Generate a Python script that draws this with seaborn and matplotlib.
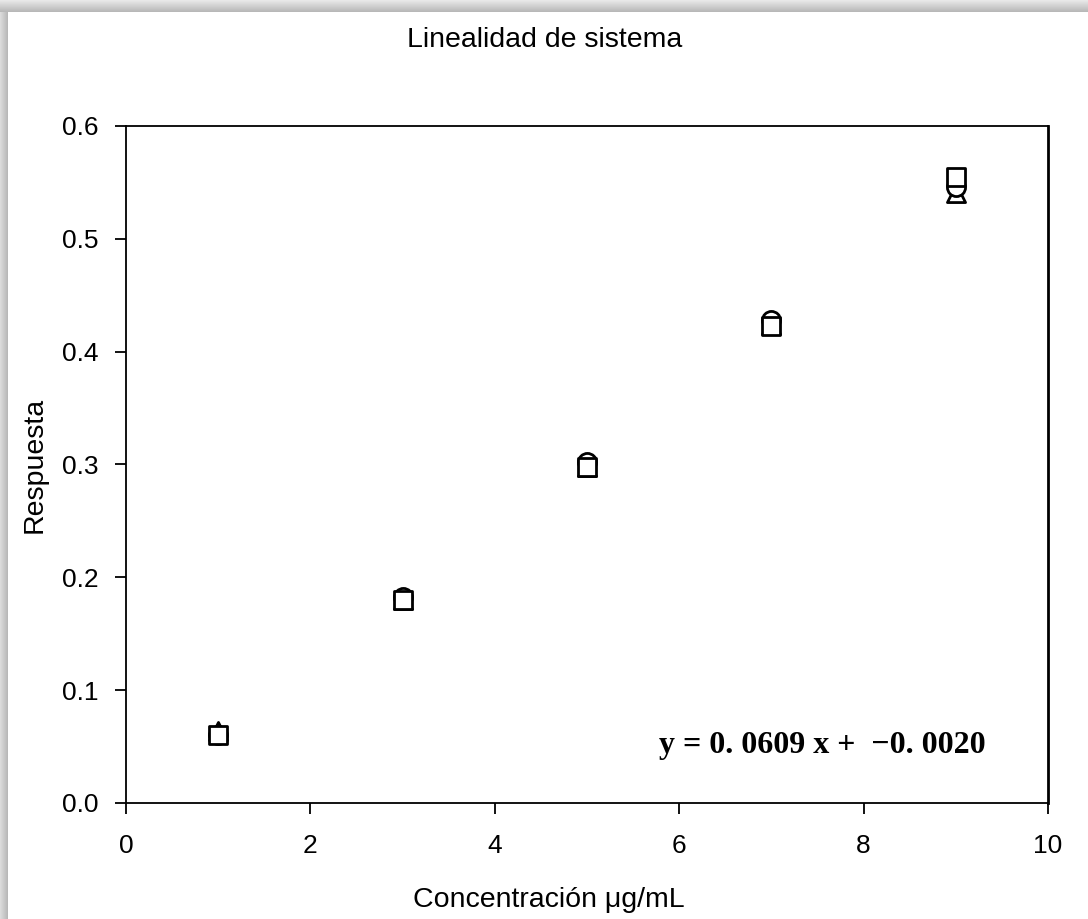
import numpy as np
import pandas as pd
import matplotlib
matplotlib.use("Agg")
import matplotlib.pyplot as plt
from matplotlib.patches import Rectangle
import seaborn as sns

# Concentrations (µg/mL) and the three replicate responses
concentracion = [1, 3, 5, 7, 9]
resp_triangulo = [0.064, 0.180, 0.298, 0.424, 0.541]
resp_circulo = [0.060, 0.183, 0.302, 0.428, 0.546]
resp_cuadrado = [0.060, 0.180, 0.298, 0.423, 0.555]

x_ticks = [0, 2, 4, 6, 8, 10]
y_ticks = [0.0, 0.1, 0.2, 0.3, 0.4, 0.5, 0.6]
ecuacion = "y = 0. 0609 x +  \u22120. 0020"

sns.set_theme(style="white")
plt.rcParams["font.family"] = ["Liberation Sans", "DejaVu Sans"]
plt.rcParams["text.color"] = "black"
plt.rcParams["xtick.color"] = "black"
plt.rcParams["ytick.color"] = "black"

W, H = 1088, 919
fig = plt.figure(figsize=(W / 100, H / 100), dpi=100, facecolor="white")

# Shaded frame along the top and left edges
top_band = np.linspace(0.91, 0.72, 12)
for i, g in enumerate(top_band):
    fig.add_artist(Rectangle((0, 1 - (i + 1) / H), 1, 1 / H, transform=fig.transFigure,
                             facecolor=str(g), edgecolor="none", zorder=0))
left_band = np.linspace(0.86, 0.72, 8)
for i, g in enumerate(left_band):
    fig.add_artist(Rectangle((i / W, 0), 1 / W, 1 - 12 / H, transform=fig.transFigure,
                             facecolor=str(g), edgecolor="none", zorder=0))

ax = fig.add_axes([126 / W, 1 - 803 / H, (1048 - 126) / W, (803 - 126) / H])

series = [
    (resp_triangulo, "^"),
    (resp_circulo, "o"),
    (resp_cuadrado, "s"),
]
for vals, mk in series:
    df = pd.DataFrame({"x": concentracion, "y": vals})
    sns.scatterplot(data=df, x="x", y="y", marker=mk, s=170, facecolor="white",
                    edgecolor="black", linewidth=2.0, ax=ax, zorder=3)

ax.set_xlim(0, 10)
ax.set_ylim(0, 0.6)
ax.set_xticks(x_ticks)
ax.set_xticklabels([str(t) for t in x_ticks])
ax.set_yticks(y_ticks)
ax.set_yticklabels([f"{t:.1f}" for t in y_ticks])
ax.tick_params(direction="out", length=8, width=1.3, color="black", labelcolor="black",
               labelsize=19, bottom=True, left=True)
ax.tick_params(axis="x", pad=14)
ax.tick_params(axis="y", pad=12)
for s in ax.spines.values():
    s.set_visible(True)
    s.set_color("black")
    s.set_linewidth(1.3)
ax.spines["right"].set_linewidth(2)
ax.set_xlabel("")
ax.set_ylabel("")

ax.text(9.32, 0.051, ecuacion, ha="right", va="center", fontsize=23,
        family=["Liberation Serif", "DejaVu Serif"], weight="bold", color="black")

fig.text(545 / W, 1 - 40 / H, "Linealidad de sistema", ha="center", va="center", fontsize=20.5)
fig.text(549 / W, 1 - 900 / H, "Concentración μg/mL", ha="center", va="center", fontsize=20.5)
fig.text(35 / W, 1 - 465 / H, "Respuesta", ha="center", va="center", rotation=90, fontsize=20.5)

fig.savefig("out.png", dpi=100, facecolor="white")
